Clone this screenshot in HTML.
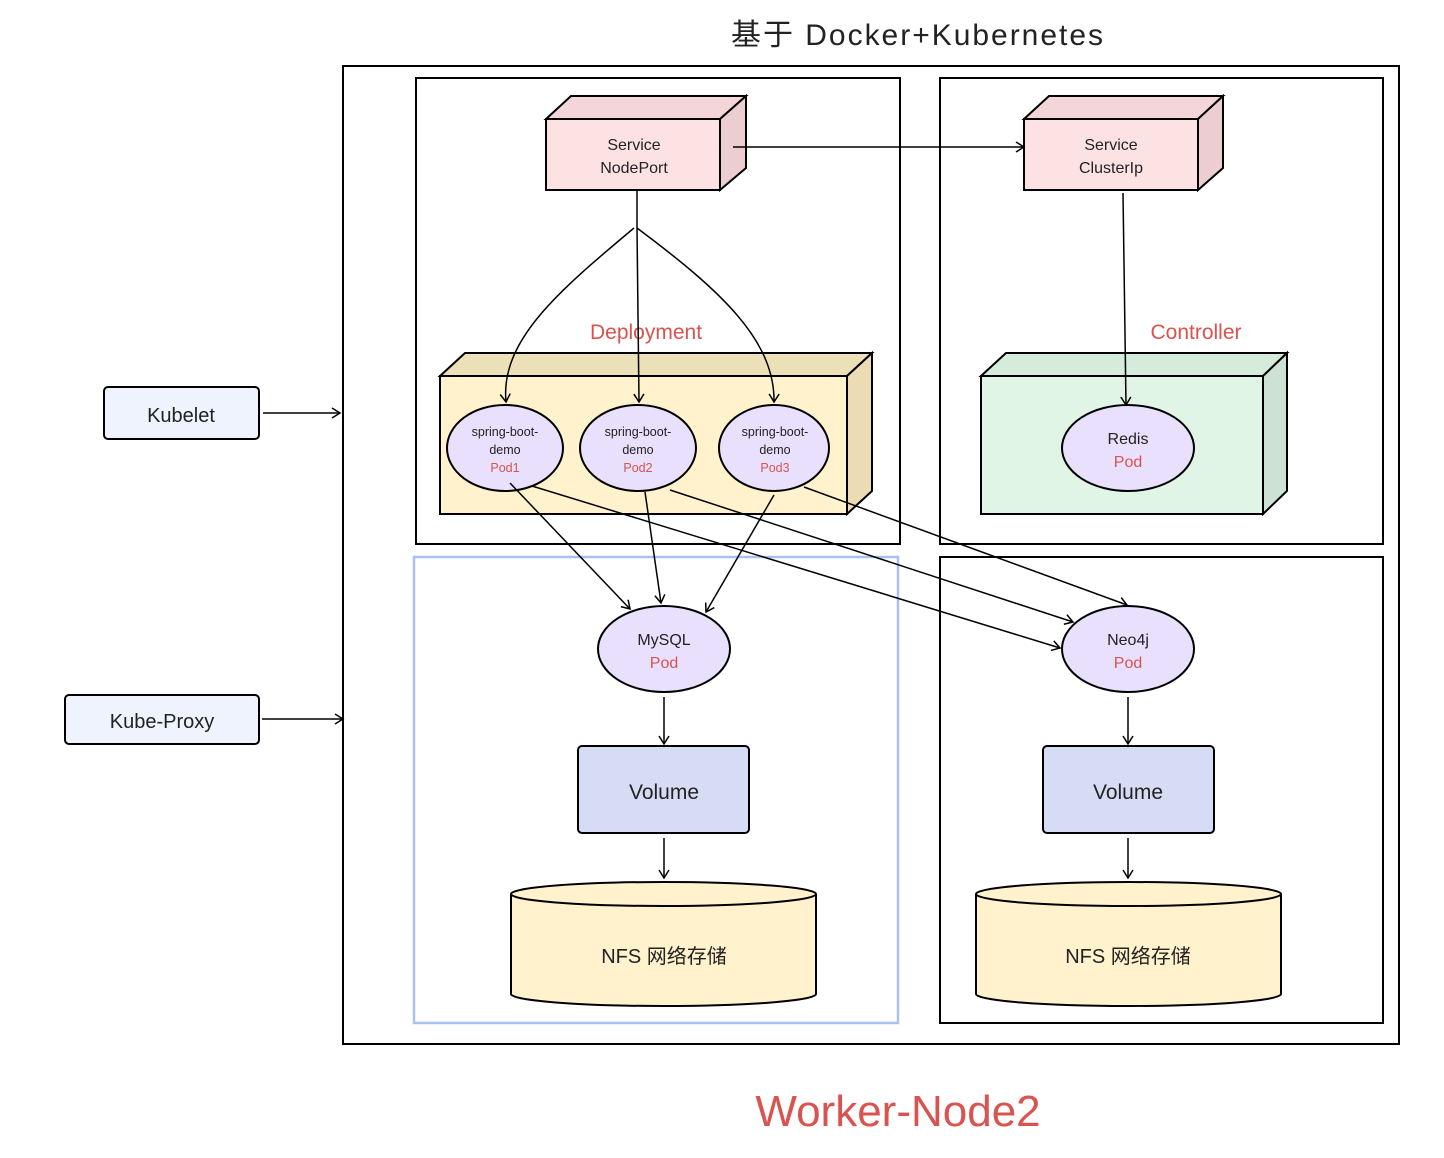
<!DOCTYPE html>
<html><head><meta charset="utf-8"><style>
html,body{margin:0;padding:0;background:#fff;}
svg{display:block;}
text{font-family:"Liberation Sans","Noto Sans CJK SC",sans-serif;fill:#222;}
</style></head><body>
<svg width="1444" height="1158" viewBox="0 0 1444 1158" xmlns="http://www.w3.org/2000/svg">
<defs>
<marker id="a" markerWidth="12" markerHeight="12" refX="10" refY="6" orient="auto" markerUnits="userSpaceOnUse">
<path d="M2,1 L10,6 L2,11" fill="none" stroke="#000" stroke-width="1.5"/>
</marker>
</defs>
<text x="731" y="45" font-size="30" textLength="372" lengthAdjust="spacing">基于 Docker+Kubernetes</text>
<rect x="343" y="66" width="1056" height="978" fill="none" stroke="#000" stroke-width="2"/>
<rect x="416" y="78" width="484" height="466" fill="none" stroke="#000" stroke-width="2"/>
<rect x="940" y="78" width="443" height="466" fill="none" stroke="#000" stroke-width="2"/>
<rect x="414" y="557" width="484" height="466" fill="none" stroke="#a9c1f2" stroke-width="2.5"/>
<rect x="940" y="557" width="443" height="466" fill="none" stroke="#000" stroke-width="2"/>

<polygon points="546,119 571,96 746,96 720,119" fill="#f5d6d8" stroke="#000" stroke-width="2"/>
<polygon points="720,119 746,96 746,168 720,190" fill="#ecced0" stroke="#000" stroke-width="2"/>
<rect x="546" y="119" width="174" height="71" fill="#fde2e4" stroke="#000" stroke-width="2"/>
<text x="634" y="150" font-size="16" text-anchor="middle">Service</text>
<text x="634" y="173" font-size="16" text-anchor="middle">NodePort</text>
<polygon points="1024,119 1049,96 1223,96 1198,119" fill="#f5d6d8" stroke="#000" stroke-width="2"/>
<polygon points="1198,119 1223,96 1223,168 1198,190" fill="#ecced0" stroke="#000" stroke-width="2"/>
<rect x="1024" y="119" width="174" height="71" fill="#fde2e4" stroke="#000" stroke-width="2"/>
<text x="1111" y="150" font-size="16" text-anchor="middle">Service</text>
<text x="1111" y="173" font-size="16" text-anchor="middle">ClusterIp</text>
<line x1="733" y1="147" x2="1024" y2="147" stroke="#000" stroke-width="1.5" marker-end="url(#a)"/>

<text x="646" y="339" font-size="21" text-anchor="middle" style="fill:#d9534f">Deployment</text>
<polygon points="440,376 465,353 872,353 847,376" fill="#ece0b8" stroke="#000" stroke-width="2"/>
<polygon points="847,376 872,353 872,491 847,514" fill="#ecdcb4" stroke="#000" stroke-width="2"/>
<rect x="440" y="376" width="407" height="138" fill="#fff2cc" stroke="#000" stroke-width="2"/>
<text x="1196" y="339" font-size="21" text-anchor="middle" style="fill:#d9534f">Controller</text>
<polygon points="981,376 1006,353 1287,353 1263,376" fill="#d4ecd9" stroke="#000" stroke-width="2"/>
<polygon points="1263,376 1287,353 1287,491 1263,514" fill="#cde2d2" stroke="#000" stroke-width="2"/>
<rect x="981" y="376" width="282" height="138" fill="#e0f5e6" stroke="#000" stroke-width="2"/>

<line x1="637" y1="190" x2="637" y2="228" stroke="#000" stroke-width="1.5"/>
<line x1="637" y1="228" x2="639" y2="402" stroke="#000" stroke-width="1.5" marker-end="url(#a)"/>
<path d="M634,228 C560,290 500,340 506,402" fill="none" stroke="#000" stroke-width="1.5" marker-end="url(#a)"/>
<path d="M637,228 C720,290 775,340 774,402" fill="none" stroke="#000" stroke-width="1.5" marker-end="url(#a)"/>
<line x1="1123" y1="193" x2="1126" y2="405" stroke="#000" stroke-width="1.5" marker-end="url(#a)"/>

<ellipse cx="505" cy="448" rx="58" ry="43" fill="#e8e0fc" stroke="#000" stroke-width="2"/>
<ellipse cx="638" cy="448" rx="58" ry="43" fill="#e8e0fc" stroke="#000" stroke-width="2"/>
<ellipse cx="774" cy="448" rx="55" ry="43" fill="#e8e0fc" stroke="#000" stroke-width="2"/>
<g font-size="12.5" text-anchor="middle">
<text x="505" y="436">spring-boot-</text><text x="505" y="454">demo</text><text x="505" y="472" style="fill:#d9534f">Pod1</text>
<text x="638" y="436">spring-boot-</text><text x="638" y="454">demo</text><text x="638" y="472" style="fill:#d9534f">Pod2</text>
<text x="775" y="436">spring-boot-</text><text x="775" y="454">demo</text><text x="775" y="472" style="fill:#d9534f">Pod3</text>
</g>
<ellipse cx="1128" cy="448" rx="66" ry="43" fill="#e8e0fc" stroke="#000" stroke-width="2"/>
<text x="1128" y="444" font-size="16" text-anchor="middle">Redis</text>
<text x="1128" y="467" font-size="16" text-anchor="middle" style="fill:#d9534f">Pod</text>

<g stroke="#000" stroke-width="1.5" fill="none" marker-end="url(#a)">
<line x1="510" y1="483" x2="630" y2="609"/>
<line x1="532" y1="486" x2="1060" y2="648"/>
<line x1="645" y1="492" x2="661" y2="603"/>
<line x1="670" y1="490" x2="1073" y2="622"/>
<line x1="774" y1="495" x2="706" y2="612"/>
<line x1="804" y1="487" x2="1127" y2="605"/>
</g>

<ellipse cx="664" cy="649" rx="66" ry="43" fill="#e8e0fc" stroke="#000" stroke-width="2"/>
<text x="664" y="645" font-size="16" text-anchor="middle">MySQL</text>
<text x="664" y="668" font-size="16" text-anchor="middle" style="fill:#d9534f">Pod</text>
<ellipse cx="1128" cy="649" rx="66" ry="43" fill="#e8e0fc" stroke="#000" stroke-width="2"/>
<text x="1128" y="645" font-size="16" text-anchor="middle">Neo4j</text>
<text x="1128" y="668" font-size="16" text-anchor="middle" style="fill:#d9534f">Pod</text>

<g stroke="#000" stroke-width="1.5" marker-end="url(#a)">
<line x1="664" y1="697" x2="664" y2="744"/>
<line x1="664" y1="838" x2="664" y2="878"/>
<line x1="1128" y1="697" x2="1128" y2="744"/>
<line x1="1128" y1="838" x2="1128" y2="878"/>
</g>

<rect x="578" y="746" width="171" height="87" rx="4" fill="#d6dcf4" stroke="#000" stroke-width="2"/>
<text x="664" y="799" font-size="21" text-anchor="middle">Volume</text>
<rect x="1043" y="746" width="171" height="87" rx="4" fill="#d6dcf4" stroke="#000" stroke-width="2"/>
<text x="1128" y="799" font-size="21" text-anchor="middle">Volume</text>

<path d="M511,894 L511,994 A152.5,12 0 0 0 816,994 L816,894 A152.5,12 0 0 0 511,894 Z" fill="#fff2cc" stroke="#000" stroke-width="2"/>
<path d="M511,894 A152.5,12 0 0 0 816,894" fill="none" stroke="#000" stroke-width="2"/>
<text x="664" y="963" font-size="20" text-anchor="middle">NFS 网络存储</text>
<path d="M976,894 L976,994 A152.5,12 0 0 0 1281,994 L1281,894 A152.5,12 0 0 0 976,894 Z" fill="#fff2cc" stroke="#000" stroke-width="2"/>
<path d="M976,894 A152.5,12 0 0 0 1281,894" fill="none" stroke="#000" stroke-width="2"/>
<text x="1128" y="963" font-size="20" text-anchor="middle">NFS 网络存储</text>

<rect x="104" y="387" width="155" height="52" rx="4" fill="#eef3fd" stroke="#000" stroke-width="2"/>
<text x="181" y="422" font-size="20" text-anchor="middle">Kubelet</text>
<line x1="263" y1="413" x2="340" y2="413" stroke="#000" stroke-width="1.5" marker-end="url(#a)"/>
<rect x="65" y="695" width="194" height="49" rx="4" fill="#eef3fd" stroke="#000" stroke-width="2"/>
<text x="162" y="728" font-size="20" text-anchor="middle">Kube-Proxy</text>
<line x1="262" y1="719" x2="343" y2="719" stroke="#000" stroke-width="1.5" marker-end="url(#a)"/>

<text x="898" y="1126" font-size="44" text-anchor="middle" style="fill:#d9534f">Worker-Node2</text>
</svg>
</body></html>
